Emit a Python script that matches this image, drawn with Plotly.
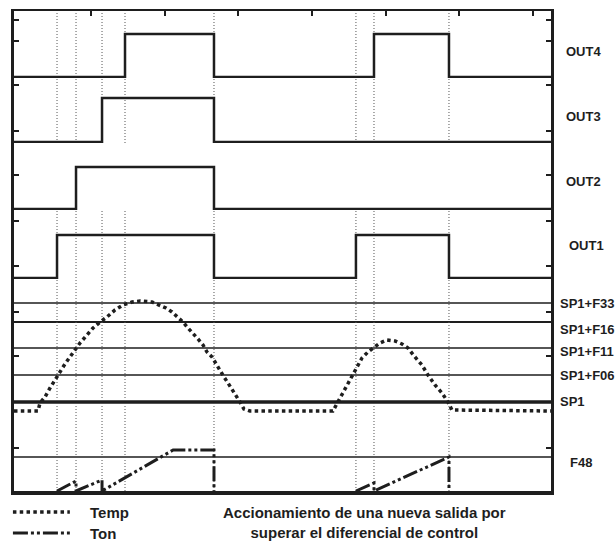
import plotly.graph_objects as go
from plotly.subplots import make_subplots

# ---------------- data ----------------
T_MIN, T_MAX = -0.45, 72.45
top_ticks = [10, 20, 30, 40, 50, 60, 70]

# instants where something switches (dotted guide lines)
event_times = [5.39, 7.97, 11.5, 14.62, 26.7, 45.97, 48.42, 58.6]

# outputs: switch-on / switch-off instants
out4_on, out4_off = [14.62, 48.42], [26.7, 58.6]
out3_on, out3_off = [11.5], [26.7]
out2_on, out2_off = [7.97], [26.7]
out1_on, out1_off = [5.39, 45.97], [26.7, 58.6]
out_labels = ["OUT4", "OUT3", "OUT2", "OUT1"]

# temperature curve
temp_t = [-0.45, 2.81, 3.08, 3.76, 4.44, 5.12, 5.66, 6.47, 7.15, 7.83, 8.51, 9.46, 10.28,
          11.23, 12.17, 13.26, 14.35, 15.57, 16.66, 18.28, 19.24, 20.18, 21.0, 21.81, 22.49,
          23.17, 23.85, 24.53, 25.21, 25.75, 26.43, 26.97, 27.51, 28.06, 28.6, 29.14, 29.69,
          30.23, 30.77, 31.58, 42.85, 43.53, 44.48, 45.43, 46.11, 46.79, 47.6, 48.42, 49.23,
          50.18, 51.27, 52.22, 53.03, 53.98, 54.93, 55.75, 56.7, 57.65, 58.46, 59.0, 72.45]
temp_v = [80, 80, 88, 94, 103, 111, 119, 127, 134, 141, 148, 156, 163,
          169, 174, 181, 186, 189, 190, 189, 186, 183, 179, 174, 169,
          163, 158, 152, 146, 139, 134, 127, 121, 114, 108, 102, 95,
          89, 82, 80, 80, 89, 101, 114, 124, 133, 139, 144, 148,
          151, 150, 147, 143, 134, 126, 116, 106, 98, 89, 81, 80]

# Ton (time-on accumulator)
ton_t = [5.39, 7.97, 7.97, 11.5, 11.5, 21.16, 26.7, 26.7, None,
         45.97, 48.42, 48.42, 58.6, 58.6]
ton_v = [0, 10, 0, 11, 0, 41, 41, 0, None,
         0, 8, 0, 34, 0]

# thresholds in the analog panel
thr_labels = ["SP1+F33", "SP1+F16", "SP1+F11", "SP1+F06", "SP1", "F48"]
thr_values = [188, 169, 143, 116, 89, 34]
thr_widths = [1.5, 2.2, 1.5, 1.5, 3.5, 1.5]
thr_label_shift = [0, -7, -3, 0, 1, -5]

# y-axis tick positions (panel units)
panel_ticks = [[1.326, 0.837], [1.295, 0.25], [0.81], [1.326, 0.279], [179, 135, 43]]
panel_ranges = [[-0.023, 1.535], [-0.023, 1.455], [-0.024, 1.571], [-0.023, 1.581], [0, 212]]

INK = "#1e1e1e"
FONT = "Liberation Sans, Arial, sans-serif"

fig = make_subplots(rows=5, cols=1, row_heights=[67, 65, 67, 69, 212], vertical_spacing=0)


def steps(on, off):
    xs, ys = [T_MIN - 1], [0]
    for a, b in zip(on, off):
        xs += [a, b]
        ys += [1, 0]
    xs.append(T_MAX + 1)
    ys.append(0)
    return xs, ys


for row, (on, off) in enumerate([(out4_on, out4_off), (out3_on, out3_off),
                                  (out2_on, out2_off), (out1_on, out1_off)], start=1):
    xs, ys = steps(on, off)
    fig.add_trace(go.Scatter(x=xs, y=ys, mode="lines",
                             line=dict(shape="hv", color=INK, width=2.5),
                             showlegend=False, hoverinfo="skip"), row=row, col=1)

fig.add_trace(go.Scatter(x=temp_t, y=temp_v, mode="lines", name="Temp",
                         line=dict(color=INK, width=3.5, dash="3.5px,3.3px"),
                         showlegend=False, hoverinfo="skip"), row=5, col=1)
fig.add_trace(go.Scatter(x=ton_t, y=ton_v, mode="lines", name="Ton",
                         line=dict(color=INK, width=3, dash="15px,3px,3px,3px,3px,3px"),
                         connectgaps=False, showlegend=False, hoverinfo="skip"), row=5, col=1)

# threshold lines
for v, w in zip(thr_values, thr_widths):
    fig.add_shape(type="line", xref="x5 domain", x0=0, x1=1, yref="y5", y0=v, y1=v,
                  line=dict(color=INK, width=w), layer="below")

# dotted guide lines
for t in event_times:
    fig.add_shape(type="line", xref="x5", x0=t, x1=t, yref="paper", y0=0, y1=1,
                  line=dict(color="#555", width=1, dash="1px,2px"), layer="below")

# axes
for i in range(1, 6):
    fig.update_yaxes(row=i, col=1, range=panel_ranges[i - 1], tickvals=panel_ticks[i - 1],
                     ticks="inside", ticklen=5, tickwidth=1.5, tickcolor=INK,
                     showticklabels=False, showgrid=False, zeroline=False,
                     showline=True, linewidth=2.5, linecolor=INK, mirror="ticks")
    fig.update_xaxes(row=i, col=1, range=[T_MIN, T_MAX], showticklabels=False,
                     showgrid=False, zeroline=False, ticks="", showline=False)

fig.update_xaxes(row=1, col=1, side="top", showline=True, linewidth=1.5, linecolor=INK,
                 ticks="inside", tickvals=top_ticks, ticklen=5, tickwidth=1.5, tickcolor=INK)
fig.update_xaxes(row=5, col=1, showline=True, linewidth=3.5, linecolor=INK)

# right-hand labels
out_label_y = [0.9146, 0.7792, 0.6438, 0.5125]
out_label_x = [1.0242, 1.0242, 1.0242, 1.0298]
for lab, x, y in zip(out_labels, out_label_x, out_label_y):
    fig.add_annotation(text=lab, xref="paper", yref="paper", x=x, y=y, xanchor="left",
                       yanchor="middle", showarrow=False,
                       font=dict(family=FONT, size=13, color=INK, weight="bold"))
for lab, v, s in zip(thr_labels, thr_values, thr_label_shift):
    fig.add_annotation(text=lab, xref="paper", yref="y5", x=1.0315 if lab == "F48" else 1.0135,
                       y=v, yshift=s, xanchor="left", yanchor="middle", showarrow=False,
                       font=dict(family=FONT, size=13, color=INK, weight="bold"))

# legend (drawn manually)
fig.add_shape(type="line", xref="paper", yref="paper", x0=-0.002, x1=0.104,
              y0=-0.04375, y1=-0.04375, line=dict(color=INK, width=3.5, dash="3.5px,3.3px"))
fig.add_shape(type="line", xref="paper", yref="paper", x0=-0.002, x1=0.104,
              y0=-0.0875, y1=-0.0875,
              line=dict(color=INK, width=3, dash="15px,3px,3px,3px,3px,3px"))
for lab, y in [("Temp", -0.04375), ("Ton", -0.0875)]:
    fig.add_annotation(text=lab, xref="paper", yref="paper", x=0.1378, y=y, xanchor="left",
                       yanchor="middle", showarrow=False,
                       font=dict(family=FONT, size=15, color=INK, weight="bold"))
fig.add_annotation(text="Accionamiento de una nueva salida por<br>superar el diferencial de control",
                   xref="paper", yref="paper", x=0.6518, y=-0.0646, xanchor="center",
                   yanchor="middle", showarrow=False, align="center",
                   font=dict(family=FONT, size=15, color=INK, weight="bold"))

fig.update_layout(width=616, height=541, margin=dict(l=14, r=65, t=11, b=50),
                  plot_bgcolor="white", paper_bgcolor="white", showlegend=False)

fig.write_html("out.html", config={"displayModeBar": False},
               post_script="document.body.style.margin='0';document.body.style.overflow='hidden';")
